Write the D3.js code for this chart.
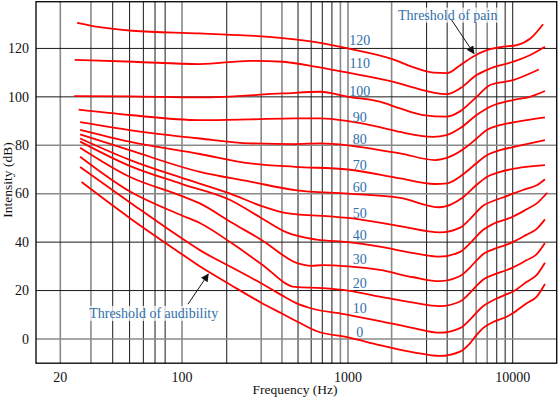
<!DOCTYPE html>
<html>
<head>
<meta charset="utf-8">
<script src="https://cdn.jsdelivr.net/npm/d3@7"></script>
<style>
  html, body { margin: 0; padding: 0; background: #fff; }
  svg { display: block; font-family: "Liberation Serif", "DejaVu Serif", serif; }
</style>
</head>
<body>
<svg id="chart" width="559" height="397"></svg>
<script>
// frequency axis (grid lines as drawn in the original, some sit a little off the round value)
const freqTicks = [20, 100, 1000, 10000];
const freqGrid = [20, 30, 40, 50, 60, 70, 80, 100, 186, 300, 400, 500, 600, 700, 800, 900, 1000,
  1840, 3000, 4000, 5000, 6000, 7000, 8000, 9000, 10000];
const freqGridDark = [40, 50, 60, 70, 80, 186, 500, 600, 700, 800, 3000, 4000, 5000, 8000, 9000, 10000];

// intensity axis
const dbTicks = [0, 20, 40, 60, 80, 100, 120];
const dbGridDark = [20, 40, 100, 120];

// equal loudness contours, [Hz, dB]
const phons = [0, 10, 20, 30, 40, 50, 60, 70, 80, 90, 100, 110, 120];
const phonLabelDb = [2.7, 12.6, 22.9, 32.8, 42.7, 52, 62.7, 71.8, 82.4, 91.8, 102.4, 113.9, 123.4];
const phonLabelFreq = 1180;

const contour0 = [[26.5, 64.8], [50, 50], [100, 35], [128, 30], [200, 22], [300, 15], [400, 10.5], [500, 7],
  [650, 3.2], [1000, 0.7], [1560, -2.5], [2500, -5.5], [3600, -7], [4790, -5.2], [5500, -1.8], [6040, 1.7],
  [6600, 4.5], [7600, 7], [9200, 9.2], [10000, 10.6], [12100, 14.7], [14000, 17.5], [15700, 22.7]];
const contour10 = [[26, 71], [50, 56.5], [100, 41.5], [128, 36.7], [200, 29.5], [300, 23], [400, 18], [500, 14.5],
  [590, 12.8], [1000, 10], [1560, 7.4], [2500, 4.5], [3600, 2.6], [4790, 4.5], [5500, 8], [6040, 11],
  [6600, 13.5], [7600, 16], [9200, 18.5], [10000, 19.5], [12100, 23.5], [14000, 26.5], [15700, 31.5]];
const contour20 = [[26, 75.3], [50, 61], [100, 51], [128, 47.9], [200, 39.5], [300, 31], [480, 21.5], [700, 21],
  [1000, 20], [1560, 17.5], [2500, 15], [3600, 13.6], [4790, 15.5], [5500, 19], [6040, 22], [6600, 24.5],
  [7600, 26.5], [9200, 28.5], [10000, 29.5], [12100, 32.5], [14000, 35], [15700, 39.6]];
const contour30 = [[26, 79], [50, 67], [100, 59], [128, 56], [200, 48], [300, 41], [500, 31.2], [600, 30.2],
  [700, 30.5], [1000, 30], [1560, 28.5], [2500, 25.5], [3600, 23.9], [4790, 26], [5500, 29.5], [6040, 32.5],
  [6600, 35], [7600, 37], [9200, 39], [10000, 40], [12100, 43], [14000, 45.5], [15700, 49.4]];
const contour40 = [[26, 81.5], [50, 71.5], [100, 64], [195, 57.4], [300, 50], [427, 44], [650, 41], [1000, 40],
  [1560, 38.1], [2500, 35.5], [3600, 34], [4790, 36], [5500, 39.5], [6040, 42.5], [6600, 45], [7600, 47.5],
  [9200, 49.5], [10000, 50.5], [12100, 53.5], [14000, 56], [16200, 60.4]];
const contour50 = [[26, 82.8], [50, 74], [100, 66.5], [195, 60], [300, 55], [427, 52], [814, 50.5], [1000, 50],
  [2070, 46.6], [3600, 44], [4790, 46], [5500, 49.5], [6040, 52.5], [6600, 55], [7600, 57], [9200, 59],
  [10000, 60], [12100, 62], [14000, 63.5], [15700, 66]];
const contour60 = [[26, 84.5], [50, 78], [128, 69], [257, 65], [480, 61.5], [1000, 60], [2070, 58.3],
  [3600, 54.4], [4200, 55.5], [5000, 58.5], [6000, 63.5], [7000, 67], [8370, 69], [10500, 70.5], [15700, 71.8]];
const contour70 = [[26, 86.4], [50, 81.5], [128, 76.4], [257, 72.5], [480, 71.1], [1000, 70], [2070, 66.3],
  [3370, 64], [4000, 64.3], [5000, 68], [6000, 72.5], [7000, 76], [8370, 78], [10500, 79.5], [15700, 82.1]];
const contour80 = [[26, 89.6], [50, 86.3], [128, 82.8], [257, 80.8], [480, 80.5], [680, 80.8], [1000, 80],
  [1560, 78], [2070, 76.7], [3370, 73.9], [4160, 75.3], [5250, 79.4], [6040, 82.8], [6950, 86.3],
  [8370, 88.3], [10530, 89.7], [15700, 91.5]];
const contour90 = [[25.5, 94.7], [50, 92.5], [128, 90.4], [257, 90.7], [480, 91.1], [680, 91.1], [1000, 90],
  [1560, 87.5], [2070, 85.5], [3280, 83.5], [3970, 84.2], [4785, 87], [6040, 92.5], [7290, 95.9],
  [10040, 98.7], [12700, 100], [15700, 102.4]];
const contour100 = [[24, 100.3], [50, 100.2], [128, 99.8], [405, 101.4], [680, 102.1], [1000, 100],
  [1560, 98], [2070, 95.2], [2850, 92.5], [3970, 91.8], [4785, 94], [6040, 100], [7290, 104.9],
  [10040, 106.9], [14400, 111.3]];
const contour110 = [[24.2, 115.3], [52.7, 114.5], [128, 113.5], [257, 114.9], [405, 114.5], [647, 112.4],
  [1000, 110], [2070, 105.5], [2480, 103.9], [3970, 101.1], [4790, 103.5], [6040, 109], [7290, 111.7],
  [10040, 114.5], [12700, 117.2], [15700, 120.7]];
const contour120 = [[25, 130.6], [33, 128.9], [52, 127.3], [128, 126.2], [390, 124.4], [680, 122.3],
  [1000, 120], [1880, 115.5], [2480, 112.3], [3300, 110], [4000, 109.8], [4800, 113.1], [5700, 116.5],
  [6960, 119.3], [8800, 120.7], [10600, 121.4], [12800, 124.1], [15300, 130]];
const contours = [contour0, contour10, contour20, contour30, contour40, contour50, contour60,
  contour70, contour80, contour90, contour100, contour110, contour120];

// annotations, [Hz, dB]
const painText = [2010, 131.9];
const painArrow = [[4260, 131.7], [5820, 117.9]];
const audibilityText = [29.3, 8.7];
const audibilityArrow = [[108.7, 14.4], [144, 26.8]];

const plotLeft = 36;
const plotRight = 556.7;
const plotTop = 1.7;
const plotBottom = 363.2;
const blue = '#2f6faa';

const svg = d3.select('#chart');

const x = d3.scaleLog()
  .domain([14.5, 20, 100, 1000, 10000, 18500])
  .range([plotLeft, 60.3, 182, 348, 512.7, plotRight]);
const y = d3.scaleLinear().domain([-10, 139.3]).range([plotBottom, plotTop]);

// grid
const grid = svg.append('g');
grid.selectAll('.vgrid')
  .data(freqGrid)
  .join('line')
  .attr('class', 'vgrid')
  .attr('x1', (f) => x(f)).attr('x2', (f) => x(f))
  .attr('y1', plotTop).attr('y2', plotBottom)
  .attr('stroke', (f) => (freqGridDark.includes(f) ? '#1a1a1a' : '#8a8a8a'))
  .attr('stroke-width', (f) => (freqGridDark.includes(f) ? 1 : 1.6));

grid.selectAll('.hgrid')
  .data(dbTicks)
  .join('line')
  .attr('class', 'hgrid')
  .attr('x1', plotLeft).attr('x2', plotRight)
  .attr('y1', (d) => y(d)).attr('y2', (d) => y(d))
  .attr('stroke', (d) => (dbGridDark.includes(d) ? '#1a1a1a' : '#8a8a8a'))
  .attr('stroke-width', (d) => (dbGridDark.includes(d) ? 1 : 1.6));

svg.append('rect')
  .attr('x', plotLeft).attr('y', plotTop)
  .attr('width', plotRight - plotLeft).attr('height', plotBottom - plotTop)
  .attr('fill', 'none')
  .attr('stroke', '#111')
  .attr('stroke-width', 1.4);

// tick labels
svg.append('g').selectAll('text')
  .data(freqTicks)
  .join('text')
  .attr('x', (f) => x(f))
  .attr('y', 381.5)
  .attr('text-anchor', 'middle')
  .attr('font-size', 14)
  .attr('fill', '#111')
  .text((f) => f);

svg.append('g').selectAll('text')
  .data(dbTicks)
  .join('text')
  .attr('x', 29)
  .attr('y', (d) => y(d))
  .attr('dy', '0.34em')
  .attr('text-anchor', 'end')
  .attr('font-size', 14)
  .attr('fill', '#111')
  .text((d) => d);

svg.append('text')
  .attr('x', 295)
  .attr('y', 393.5)
  .attr('text-anchor', 'middle')
  .attr('font-size', 13.5)
  .attr('fill', '#111')
  .text('Frequency (Hz)');

svg.append('text')
  .attr('transform', 'translate(12,180) rotate(-90)')
  .attr('text-anchor', 'middle')
  .attr('font-size', 13.5)
  .attr('fill', '#111')
  .text('Intensity (dB)');

// contours
const line = d3.line()
  .x((d) => x(d[0]))
  .y((d) => y(d[1]))
  .curve(d3.curveMonotoneX);

svg.append('g').selectAll('path')
  .data(contours)
  .join('path')
  .attr('d', line)
  .attr('fill', 'none')
  .attr('stroke', '#ff0000')
  .attr('stroke-width', 1.8);

svg.append('g').selectAll('text')
  .data(phons)
  .join('text')
  .attr('x', x(phonLabelFreq))
  .attr('y', (p, i) => y(phonLabelDb[i]))
  .attr('dy', '0.35em')
  .attr('text-anchor', 'middle')
  .attr('font-size', 14)
  .attr('fill', blue)
  .text((p) => p);

// annotations
const defs = svg.append('defs');
defs.append('marker')
  .attr('id', 'arrow')
  .attr('viewBox', '0 0 10 10')
  .attr('refX', 9).attr('refY', 5)
  .attr('markerWidth', 8).attr('markerHeight', 8)
  .attr('markerUnits', 'userSpaceOnUse')
  .attr('orient', 'auto')
  .append('path')
  .attr('d', 'M0,0L10,5L0,10Z')
  .attr('fill', '#111');

const addNote = (pos, label) => {
  const g = svg.append('g');
  const rect = g.append('rect').attr('fill', '#fff').attr('opacity', 0.75);
  const t = g.append('text')
    .attr('x', x(pos[0]))
    .attr('y', y(pos[1]))
    .attr('font-size', 14)
    .attr('fill', blue)
    .text(label);
  const box = t.node().getBBox();
  rect.attr('x', box.x - 2).attr('y', box.y)
    .attr('width', box.width + 4).attr('height', box.height);
};

const addArrow = (pts) => {
  svg.append('line')
    .attr('x1', x(pts[0][0])).attr('y1', y(pts[0][1]))
    .attr('x2', x(pts[1][0])).attr('y2', y(pts[1][1]))
    .attr('stroke', '#111')
    .attr('stroke-width', 1)
    .attr('marker-end', 'url(#arrow)');
};

addNote(painText, 'Threshold of pain');
addArrow(painArrow);
addNote(audibilityText, 'Threshold of audibility');
addArrow(audibilityArrow);
</script>
</body>
</html>
